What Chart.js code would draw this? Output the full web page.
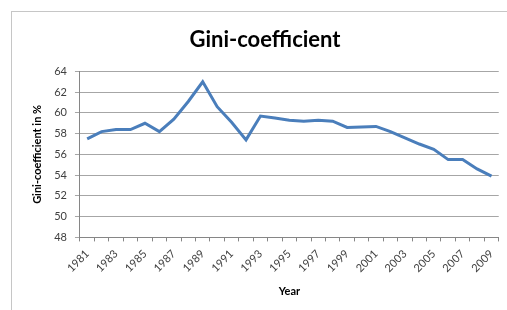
<!DOCTYPE html>
<html>
<head>
<meta charset="utf-8">
<script src="https://cdn.jsdelivr.net/npm/chart.js@4"></script>
<style>
  html, body { margin: 0; padding: 0; background: #fff; }
  #wrap { position: relative; width: 507px; height: 310px; overflow: hidden; }
  #frame { position: absolute; left: 11px; top: 11px; width: 700px; height: 500px;
           border-left: 1px solid #c6c6c6; border-top: 1px solid #c6c6c6; }
  canvas { position: absolute; left: 0; top: 0; }
</style>
</head>
<body>
<div id="wrap">
  <div id="frame"></div>
  <canvas id="gini" width="507" height="310"></canvas>
</div>
<script>
// data
var years = ['1981','1982','1983','1984','1985','1986','1987','1988','1989','1990',
             '1991','1992','1993','1994','1995','1996','1997','1998','1999','2000',
             '2001','2002','2003','2004','2005','2006','2007','2008','2009'];
var gini = [57.5, 58.2, 58.4, 58.4, 59.0, 58.2, 59.4, 61.1, 63.0, 60.6,
            59.1, 57.4, 59.7, 59.5, 59.3, 59.2, 59.3, 59.2, 58.6, 58.65,
            58.7, 58.2, 57.6, 57.0, 56.5, 55.5, 55.5, 54.6, 53.9];
var yMin = 48;
var yMax = 64;

var fontFam = 'Lato, "Open Sans", sans-serif';

var ctx = document.getElementById('gini').getContext('2d');
var chart = new Chart(ctx, {
    type: 'line',
    data: {
        labels: years,
        datasets: [{
            label: 'Gini-coefficient',
            data: gini,
            borderColor: '#4a7ebb',
            borderWidth: 3,
            pointRadius: 0,
            tension: 0,
            fill: false
        }]
    },
    options: {
        responsive: false,
        animation: false,
        layout: { padding: { left: 31, right: 8, top: 27, bottom: 12 } },
        plugins: {
            legend: { display: false },
            tooltip: { enabled: false },
            title: {
                display: true,
                text: 'Gini-coefficient',
                color: '#000',
                font: { family: fontFam, size: 22, weight: 'bold' },
                padding: { top: 0, bottom: 18 }
            }
        },
        scales: {
            x: {
                offset: true,
                grid: { display: true, drawOnChartArea: false, drawTicks: true,
                        tickLength: 4, offset: true, color: '#868686' },
                border: { display: true, color: '#868686' },
                ticks: {
                    autoSkip: false,
                    minRotation: 45, maxRotation: 45,
                    color: '#404040',
                    font: { family: fontFam, size: 11 },
                    padding: 6,
                    callback: function(v, i) { return i % 2 === 0 ? years[i] : ''; }
                },
                title: {
                    display: true, text: 'Year', color: '#000',
                    font: { family: fontFam, size: 11, weight: 'bold' },
                    padding: { top: 4, bottom: 0 }
                }
            },
            y: {
                min: yMin, max: yMax,
                grid: { color: '#a6a6a6', tickLength: 5 },
                border: { display: true, color: '#868686' },
                ticks: {
                    stepSize: 2, color: '#404040',
                    font: { family: fontFam, size: 11 },
                    padding: 8
                },
                title: {
                    display: true, text: 'Gini-coefficient in %', color: '#000',
                    font: { family: fontFam, size: 11, weight: 'bold' },
                    padding: { top: 0, bottom: 2 }
                }
            }
        }
    }
});
</script>
</body>
</html>
